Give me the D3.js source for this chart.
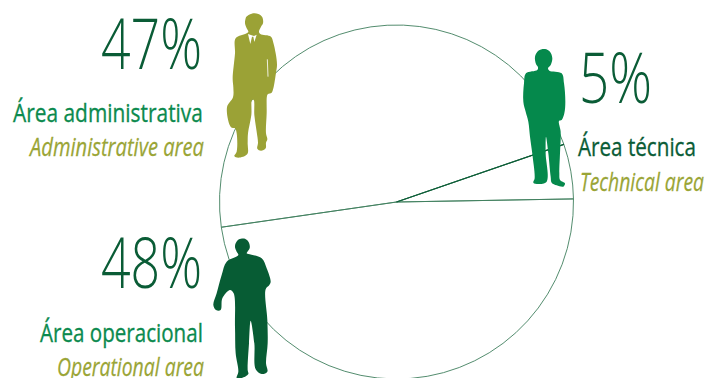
<!DOCTYPE html>
<html>
<head>
<meta charset="utf-8">
<script src="https://cdn.jsdelivr.net/npm/d3@7"></script>
<style>
html,body{margin:0;padding:0;background:#fff}
svg{display:block}
text{font-family:"Open Sans","Noto Sans",sans-serif}
</style>
</head>
<body>
<svg id="chart" width="705" height="378"></svg>
<script>
// Staff distribution by area
const areas = ["Área técnica", "Área operacional", "Área administrativa"];
const areasEn = ["Technical area", "Operational area", "Administrative area"];
const shares = [5, 48, 47];

// Silhouette outlines, each in its own local units
const technicianOutline = [[75,50],[85,32],[105,27],[120,35],[127,55],[122,75],[114,85],[118,92],[155,100],[162,130],[166,185],[163,220],[155,240],[147,243],[152,275],[150,340],[148,400],[150,420],[165,430],[160,440],[140,436],[125,428],[122,410],[115,340],[108,290],[107,340],[110,425],[85,432],[70,428],[74,415],[68,350],[60,290],[55,245],[47,215],[40,185],[42,130],[48,100],[82,90],[84,82],[78,72]];
const operatorOutline = [[92,40],[102,28],[120,26],[132,38],[134,55],[125,70],[130,72],[170,85],[185,115],[197,155],[193,165],[182,178],[187,270],[188,340],[183,400],[187,425],[170,432],[152,418],[148,340],[137,272],[132,340],[128,420],[130,432],[110,444],[95,444],[100,425],[92,370],[90,290],[86,190],[75,180],[52,205],[47,240],[33,240],[25,225],[35,190],[50,135],[65,95],[100,75],[95,65],[90,52]];
const managerOutline = [[124,50],[140,41],[160,42],[172,52],[174,70],[168,80],[162,95],[166,102],[198,110],[205,128],[212,160],[216,195],[213,218],[205,265],[200,278],[189,282],[186,288],[185,340],[183,400],[187,418],[183,428],[182,445],[168,452],[157,446],[159,428],[155,395],[148,345],[146,300],[141,300],[139,345],[129,400],[128,430],[127,462],[100,473],[88,468],[95,455],[95,400],[90,385],[78,382],[66,322],[84,292],[85,262],[83,235],[90,160],[92,115],[125,100],[130,95],[125,85],[120,70],[122,55]];
const managerShirt = [[129,102],[136,132],[141,110],[145,110],[148,126],[155,104],[147,108],[140,106]];

const DARK = "#0a5c36", MID = "#0b8a4e", OLIVE = "#9aa536";
const svg = d3.select("#chart");

// Pie: one outline per slice, no fill
const cx = 396.5, cy = 202, radius = 177;
const startDeg = 71;
const pie = d3.pie().sort(null)
  .startAngle(startDeg * Math.PI / 180)
  .endAngle((startDeg + 360) * Math.PI / 180);
const arcs = pie(shares);
const arc = d3.arc().innerRadius(0).outerRadius(radius);
const g = svg.append("g").attr("transform", `translate(${cx},${cy})`);
g.selectAll("path").data(arcs).join("path")
  .attr("d", arc)
  .attr("fill", "none")
  .attr("stroke", "#3f7f5e")
  .attr("stroke-width", 0.9);
// The edge of the smallest slice is drawn heavier
g.append("line")
  .attr("x2", d3.pointRadial(arcs[0].startAngle, radius)[0])
  .attr("y2", d3.pointRadial(arcs[0].startAngle, radius)[1])
  .attr("stroke", DARK).attr("stroke-width", 1.2);

// Figures
const outline = d3.line().curve(d3.curveCatmullRomClosed.alpha(0.5));
function figure(points, color, x, y) {
  return svg.append("g").attr("transform", `translate(${x},${y}) scale(${1/3})`)
    .call(s => s.append("path").attr("d", outline(points)).attr("fill", color));
}
figure(technicianOutline, "#05894c", 510, 40);
figure(operatorOutline, "#075c34", 205, 230);
const manager = figure(managerOutline, "#9ba236", 205, 0);
manager.append("path").attr("d", d3.line()(managerShirt) + "Z").attr("fill", "#fff");
manager.append("path").attr("d", "M187,178L189,230").attr("stroke", "#fff").attr("stroke-width", 2.5);

// Text blocks: percentage, Portuguese label, English label
const blocks = [
  {i: 0, pct: [579, 103, 73],  pt: [578, 156, 118, DARK], en: [580, 191, 124]},
  {i: 1, pct: [101, 288, 101], pt: [40, 342, 163, MID],   en: [57, 376, 147]},
  {i: 2, pct: [101, 68.5, 101],pt: [13, 122, 190, MID],   en: [30, 156, 174]}
];
// Condensed setting: each line is squeezed horizontally to its measure
function put(str, [x, y, w], size, weight, style, fill, thicken) {
  const t = svg.append("text")
    .attr("font-size", size).attr("font-weight", weight)
    .attr("font-style", style).attr("fill", fill)
    .attr("stroke", fill).attr("stroke-width", thicken)
    .text(str);
  const natural = t.node().getComputedTextLength();
  t.attr("transform", `translate(${x},${y}) scale(${w / natural},1)`);
}
blocks.forEach(b => {
  put(shares[b.i] + "%", b.pct, 70, 300, "normal", DARK, 0);
  put(areas[b.i], b.pt, 26, 400, "normal", b.pt[3], 0.35);
  put(areasEn[b.i], b.en, 26, 400, "italic", OLIVE, 0.25);
});
</script>
</body>
</html>
